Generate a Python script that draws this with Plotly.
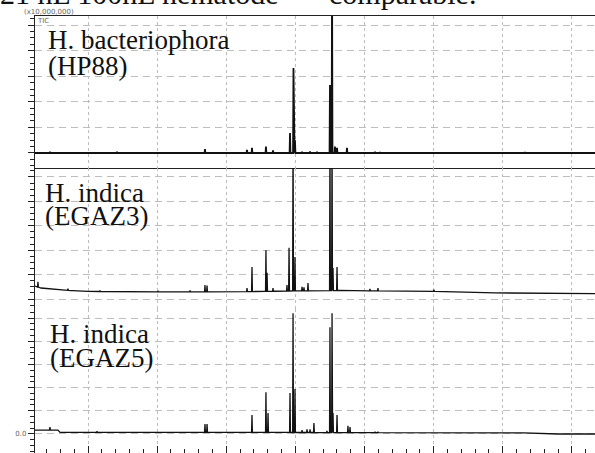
import numpy as np
import plotly.graph_objects as go

# ---------------- data (retention time in min, intensity in x10,000,000) -------------
x_range = [6.167, 46.667]

# H. bacteriophora (HP88)
hp88_base_t = [6.167, 46.667]
hp88_base_y = [0.0, 0.0]
hp88_peak_t = [7.25, 12.10, 18.46, 21.50, 21.86, 22.87, 23.38, 24.61, 24.86, 24.97,
               25.48, 26.06, 26.56, 27.50, 27.65, 27.86, 28.01, 28.73, 30.76, 31.12, 41.60]
hp88_peak_h = [0.05, 0.05, 0.15, 0.12, 0.2, 0.25, 0.1, 0.78, 3.32, 0.5,
               0.05, 0.06, 0.05, 2.66, 7.0, 0.25, 0.2, 0.2, 0.05, 0.04, 0.04]

# H. indica (EGAZ3)
egaz3_base_t = [6.167, 6.60, 7.98, 10.0, 15.06, 20.13, 24.61, 28.22, 31.12, 34.95, 39.43, 46.667]
egaz3_base_y = [0.53, 0.45, 0.37, 0.31, 0.29, 0.29, 0.33, 0.35, 0.33, 0.31, 0.25, 0.22]
egaz3_peak_t = [6.38, 8.55, 8.84, 10.87, 15.06, 17.38, 18.46, 18.61, 21.50, 21.86,
                22.87, 22.95, 23.38, 24.39, 24.54, 24.83, 24.97, 25.48, 25.62, 25.91,
                27.50, 27.65, 27.72, 28.01, 28.50, 30.39, 30.97, 35.02]
egaz3_peak_h = [0.70, 0.42, 0.34, 0.35, 0.34, 0.35, 0.57, 0.55, 0.45, 1.31,
                2.0, 1.07, 0.45, 0.57, 2.1, 7.0, 1.72, 0.5, 0.48, 0.65,
                7.0, 7.0, 1.27, 1.31, 0.35, 0.42, 0.45, 0.38]

# H. indica (EGAZ5)
egaz5_base_t = [6.167, 7.83, 7.98, 21.0, 30.0, 41.5, 43.99, 46.667]
egaz5_base_y = [0.17, 0.17, 0.07, 0.07, 0.06, 0.05, 0.0, 0.0]
egaz5_peak_t = [7.25, 10.65, 18.46, 18.61, 21.86, 22.87, 23.02, 24.61, 24.83, 24.97,
                25.48, 25.84, 26.06, 26.34, 27.28, 27.50, 27.65, 27.72, 28.01, 28.80,
                28.95, 30.76, 30.97]
egaz5_peak_h = [0.30, 0.12, 0.43, 0.43, 0.82, 1.8, 0.9, 1.77, 5.2, 1.94,
                0.17, 0.2, 0.2, 0.47, 0.13, 4.6, 5.2, 0.9, 0.82, 0.35,
                0.3, 0.1, 0.1]

labels = [("H. bacteriophora", "(HP88)"), ("H. indica", "(EGAZ3)"), ("H. indica", "(EGAZ5)")]


def build(base_t, base_y, peak_t, peak_h, delta=0.03):
    pts = list(zip(base_t, base_y))
    for t, h in zip(peak_t, peak_h):
        b = float(np.interp(t, base_t, base_y))
        pts += [(t - delta, b), (t, h), (t + delta, b)]
    pts.sort(key=lambda p: p[0])
    return [p[0] for p in pts], [p[1] for p in pts]


series = [
    build(hp88_base_t, hp88_base_y, hp88_peak_t, hp88_peak_h),
    build(egaz3_base_t, egaz3_base_y, egaz3_peak_t, egaz3_peak_h),
    build(egaz5_base_t, egaz5_base_y, egaz5_peak_t, egaz5_peak_h),
]

fig = go.Figure()
for i, (xs, ys) in enumerate(series):
    sfx = "" if i == 0 else str(i + 1)
    fig.add_trace(go.Scatter(x=xs, y=ys, mode="lines", xaxis="x" + sfx, yaxis="y" + sfx,
                             line=dict(color="#111111", width=1.3 if i else 1.8),
                             showlegend=False, hoverinfo="skip"))

GRID = "#bdbdbd"
AX = "#222222"
xcommon = dict(range=x_range, domain=[0, 1], showgrid=True, gridcolor=GRID,
               griddash="3px,3px", gridwidth=1, tick0=10, dtick=5,
               showticklabels=False, zeroline=False)
ycommon = dict(showgrid=True, gridcolor=GRID, griddash="7px,5px", gridwidth=1,
               tick0=0, dtick=1, zeroline=False, showline=True, linecolor=AX,
               linewidth=1.2, ticks="outside", ticklen=6, tickcolor=AX,
               showticklabels=False,
               minor=dict(ticks="outside", ticklen=4, tick0=0, dtick=0.25,
                          tickcolor=AX, showgrid=False))

fig.update_layout(
    width=595, height=453,
    margin=dict(l=35, r=0, t=16, b=0),
    paper_bgcolor="white", plot_bgcolor="white",
    xaxis=dict(**xcommon, anchor="y", showline=True, mirror=True, linecolor=AX,
               linewidth=1.3, ticks=""),
    xaxis2=dict(**xcommon, anchor="y2", showline=False, ticks=""),
    xaxis3=dict(**xcommon, anchor="y3", showline=False, ticks="inside", ticklen=7,
                tickcolor=AX,
                minor=dict(ticks="inside", ticklen=4, tick0=10, dtick=1, tickcolor=AX)),
    yaxis=dict(**ycommon, domain=[0.6522, 1], range=[-0.586, 5.352], anchor="x"),
    yaxis2=dict(**ycommon, domain=[0.3295, 0.6522], range=[-0.41, 5.369], anchor="x2"),
    yaxis3=dict(**{**ycommon, "showticklabels": True}, domain=[0, 0.3295],
                range=[-0.819, 5.388], anchor="x3",
                tickmode="array", tickvals=[0, 1, 2, 3, 4, 5],
                ticktext=["0.0", "", "", "", "", ""],
                tickfont=dict(size=7, color="#666666", family="DejaVu Sans")),
)

serif = dict(family="Liberation Serif", size=27, color="#111111")
label_pos = [((46, 40), (46, 66)), ((43, 192.5), (43, 216)), ((48, 334.5), (48, 357.5))]


def px2paper(px, py):
    return (px - 35) / 560.0, (453 - py) / 437.0


for (l1, l2), (p1, p2) in zip(labels, label_pos):
    for txt, (px, py) in ((l1, p1), (l2, p2)):
        ax_, ay_ = px2paper(px, py)
        fig.add_annotation(x=ax_, y=ay_, xref="paper", yref="paper", text=txt,
                           showarrow=False, xanchor="left", yanchor="middle", font=serif)

small = dict(family="DejaVu Sans", size=7, color="#666666")
for txt, (px, py) in (("(x10,000,000)", (22, 12)), ("TIC", (35, 21))):
    ax_, ay_ = px2paper(px, py)
    fig.add_annotation(x=ax_, y=ay_, xref="paper", yref="paper", text=txt, showarrow=False,
                       xanchor="left", yanchor="middle", font=small)

top = dict(family="Liberation Serif", size=30, color="#111111")
for txt, (px, py) in (("21 hL 100hL nematode", (-2, -7)), ("comparable.", (327, -7))):
    ax_, ay_ = px2paper(px, py)
    fig.add_annotation(x=ax_, y=ay_, xref="paper", yref="paper", text=txt, showarrow=False,
                       xanchor="left", yanchor="middle", font=top)

fig.write_html("out.html", post_script="document.body.style.margin='0';",
               config={"displayModeBar": False})
